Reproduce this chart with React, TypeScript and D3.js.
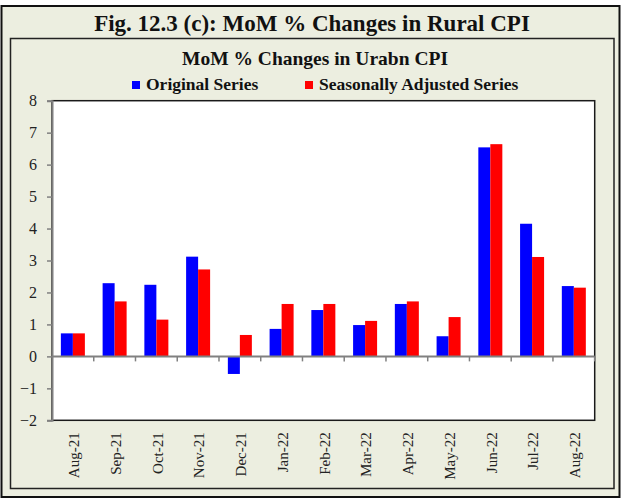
import React, { useEffect, useRef } from 'react';
import * as d3 from 'd3';

const months = ['Aug-21', 'Sep-21', 'Oct-21', 'Nov-21', 'Dec-21', 'Jan-22', 'Feb-22', 'Mar-22', 'Apr-22', 'May-22', 'Jun-22', 'Jul-22', 'Aug-22'];
const original = [0.72, 2.29, 2.24, 3.12, -0.55, 0.86, 1.45, 0.98, 1.64, 0.63, 6.54, 4.15, 2.2];
const seasonal = [0.72, 1.72, 1.15, 2.72, 0.67, 1.64, 1.64, 1.11, 1.72, 1.23, 6.64, 3.11, 2.15];
const seriesNames = ['Original Series', 'Seasonally Adjusted Series'];
const seriesColors = ['#0000ff', '#ff0000'];
const yTicks = [-2, -1, 0, 1, 2, 3, 4, 5, 6, 7, 8];

const W = 621;
const H = 499;
const FONT = '"Liberation Serif", "DejaVu Serif", serif';

const App = () => {
    const ref = useRef<SVGSVGElement>(null);

    useEffect(() => {
        const svg = d3.select(ref.current);
        svg.selectAll('*').remove();

        // frame
        svg.append('rect').attr('x', 0).attr('y', 0).attr('width', W).attr('height', H).attr('fill', '#ffffff');
        svg.append('rect')
            .attr('x', 1.5).attr('y', 6).attr('width', 618).attr('height', 491)
            .attr('fill', '#eceee0').attr('stroke', '#111').attr('stroke-width', 2);
        svg.append('text')
            .attr('x', 312).attr('y', 31)
            .attr('text-anchor', 'middle')
            .style('font-family', FONT).style('font-weight', 'bold').style('font-size', '23px')
            .attr('fill', '#111')
            .text('Fig. 12.3 (c): MoM % Changes in Rural CPI');
        svg.append('rect')
            .attr('x', 10.5).attr('y', 38.5).attr('width', 603.5).attr('height', 450)
            .attr('fill', 'none').attr('stroke', '#222').attr('stroke-width', 1.5);

        svg.append('text')
            .attr('x', 315).attr('y', 65)
            .attr('text-anchor', 'middle')
            .style('font-family', FONT).style('font-weight', 'bold').style('font-size', '19.5px')
            .attr('fill', '#111')
            .text('MoM % Changes in Urabn CPI');

        // legend
        const legendX = [132, 305];
        seriesNames.forEach((name, i) => {
            svg.append('rect')
                .attr('x', legendX[i]).attr('y', 81).attr('width', 8).attr('height', 8)
                .attr('fill', seriesColors[i]);
            svg.append('text')
                .attr('x', legendX[i] + 14).attr('y', 89.5)
                .style('font-family', FONT).style('font-weight', 'bold').style('font-size', '17.5px')
                .attr('fill', '#111')
                .text(name);
        });

        const left = 52, right = 594.7, top = 100.7, bottom = 420.3;

        const y = d3.scaleLinear().domain([-2, 8]).range([bottom, top]);
        const x0 = d3.scaleBand()
            .domain(months)
            .range([left, right])
            .paddingInner(0.425)
            .paddingOuter(0.2125);
        const x1 = d3.scaleBand()
            .domain(seriesNames)
            .range([0, x0.bandwidth()]);
        const step = x0.step();

        svg.append('rect')
            .attr('x', left).attr('y', top).attr('width', right - left).attr('height', bottom - top)
            .attr('fill', '#ffffff').attr('stroke', '#1a1a1a').attr('stroke-width', 1.5);

        // bars
        const table = months.map((m, i) => ({ m, vals: [original[i], seasonal[i]] }));
        const groups = svg.selectAll('.grp')
            .data(table)
            .enter()
            .append('g')
            .attr('transform', d => `translate(${x0(d.m)},0)`);
        groups.selectAll('rect')
            .data(d => d.vals.map((v, i) => ({ v, i })))
            .enter()
            .append('rect')
            .attr('x', d => x1(seriesNames[d.i]) as number)
            .attr('y', d => y(Math.max(0, d.v)))
            .attr('width', x1.bandwidth())
            .attr('height', d => Math.abs(y(d.v) - y(0)))
            .attr('fill', d => seriesColors[d.i]);

        // y axis
        const yAxis = svg.append('g')
            .attr('transform', `translate(${left},0)`)
            .call(d3.axisLeft(y).tickValues(yTicks).tickSize(5).tickPadding(10).tickFormat(d3.format('d')));
        yAxis.select('.domain').attr('stroke', '#808080').attr('stroke-width', 2);
        yAxis.selectAll('.tick line').attr('stroke', '#808080').attr('stroke-width', 1.5);
        yAxis.selectAll('.tick text')
            .style('font-family', FONT).style('font-size', '16px').attr('fill', '#222');

        // zero line with category ticks
        const zero = y(0);
        svg.append('line')
            .attr('x1', left).attr('x2', right).attr('y1', zero).attr('y2', zero)
            .attr('stroke', '#808080').attr('stroke-width', 2);
        svg.selectAll('.ctick')
            .data(months)
            .enter()
            .append('line')
            .attr('x1', d => (x0(d) as number) - step * 0.2125 + step)
            .attr('x2', d => (x0(d) as number) - step * 0.2125 + step)
            .attr('y1', zero).attr('y2', zero + 5)
            .attr('stroke', '#808080').attr('stroke-width', 1.5);

        // category labels
        svg.selectAll('.clabel')
            .data(months)
            .enter()
            .append('text')
            .attr('transform', d => `translate(${(x0(d) as number) + x0.bandwidth() / 2 + 1},${bottom + 12}) rotate(-90)`)
            .attr('text-anchor', 'end')
            .attr('dy', '0.35em')
            .style('font-family', FONT).style('font-size', '15px')
            .attr('fill', '#222')
            .text(d => d);
    }, []);

    return (
        <svg ref={ref} width={W} height={H} style={{ position: 'absolute', left: 0, top: 0 }}></svg>
    );
};

export default App;
